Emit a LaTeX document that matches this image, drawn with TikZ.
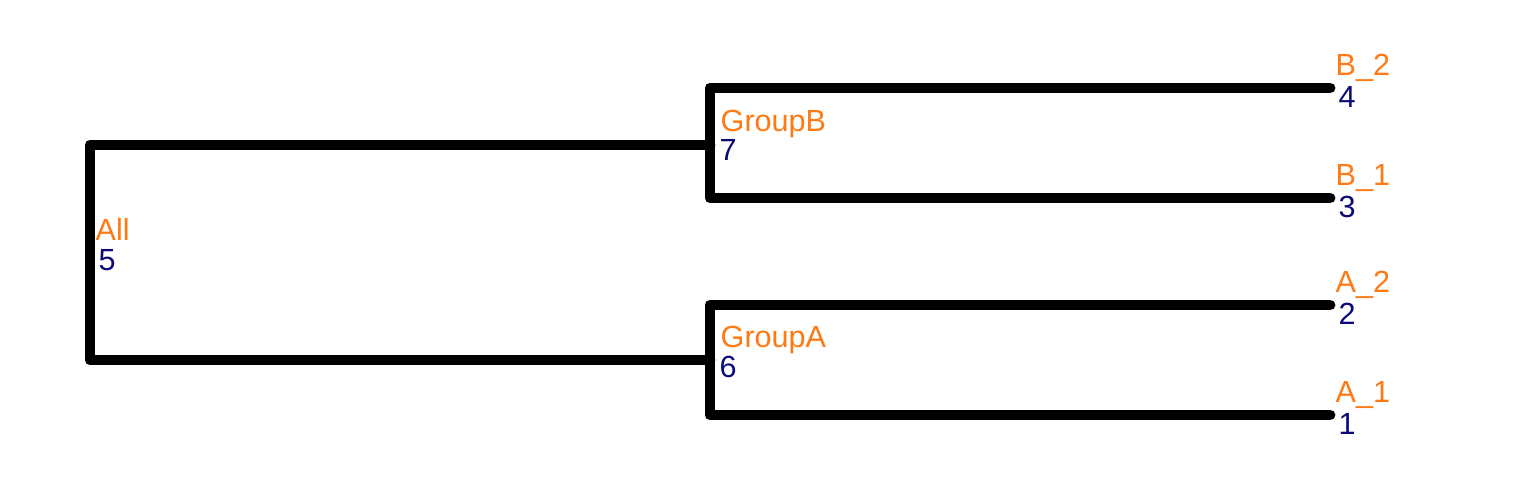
\documentclass[tikz,border=0pt]{standalone}
\usepackage{fontspec}
\setmainfont{Liberation Sans}
\usetikzlibrary{calc}
\definecolor{lblorange}{RGB}{255,122,20}
\definecolor{lblnavy}{RGB}{10,10,120}
\tikzset{
  branch/.style={line width=3.1pt, line cap=round, line join=round},
  namelbl/.style={anchor=west, inner sep=0pt, text=lblorange, font=\fontsize{8.7}{10}\selectfont},
  numlbl/.style={anchor=west, inner sep=0pt, text=lblnavy, font=\fontsize{8.7}{10}\selectfont}
}
\begin{document}
\begin{tikzpicture}
    \useasboundingbox (0,0) rectangle (15.36,4.80);
    % tree nodes
    \coordinate (n5) at (0.90,2.265);
    \coordinate (n7) at (7.10,3.35);
    \coordinate (n6) at (7.10,1.20);
    \coordinate (n4) at (13.30,3.92);
    \coordinate (n3) at (13.30,2.82);
    \coordinate (n2) at (13.30,1.75);
    \coordinate (n1) at (13.30,0.65);

    \draw[branch] (n7) -- (n5 |- n7) -- (n5 |- n6) -- (n6);
    \draw[branch] (n4) -- (n7 |- n4) -- (n7 |- n3) -- (n3);
    \draw[branch] (n2) -- (n6 |- n2) -- (n6 |- n1) -- (n1);

    \node[namelbl] (t5) at ($(n5)+(0.05,0.24)$) {All};
    \node[numlbl]  (k5) at ($(n5)+(0.08,-0.07)$) {5};
    \node[namelbl] (t7) at ($(n7)+(0.10,0.21)$) {GroupB};
    \node[numlbl]  (k7) at ($(n7)+(0.09,-0.05)$) {7};
    \node[namelbl] (t6) at ($(n6)+(0.10,0.20)$) {GroupA};
    \node[numlbl]  (k6) at ($(n6)+(0.09,-0.07)$) {6};
    \node[namelbl] (t4) at ($(n4)+(0.05,0.20)$) {B\_2};
    \node[numlbl]  (k4) at ($(n4)+(0.08,-0.09)$) {4};
    \node[namelbl] (t3) at ($(n3)+(0.05,0.20)$) {B\_1};
    \node[numlbl]  (k3) at ($(n3)+(0.08,-0.09)$) {3};
    \node[namelbl] (t2) at ($(n2)+(0.05,0.20)$) {A\_2};
    \node[numlbl]  (k2) at ($(n2)+(0.08,-0.09)$) {2};
    \node[namelbl] (t1) at ($(n1)+(0.05,0.20)$) {A\_1};
    \node[numlbl]  (k1) at ($(n1)+(0.08,-0.09)$) {1};
\end{tikzpicture}
\end{document}
